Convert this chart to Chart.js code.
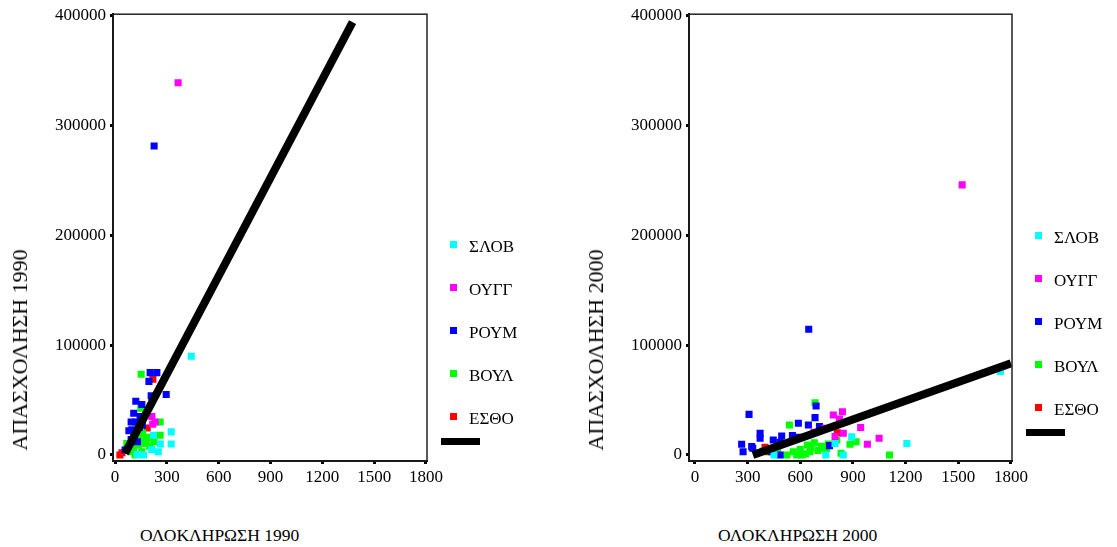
<!DOCTYPE html>
<html>
<head>
<meta charset="utf-8">
<script src="https://cdn.jsdelivr.net/npm/chart.js@4.4.1/dist/chart.umd.min.js"></script>
<style>
  body { margin: 0; background: #fff; font-family: "Liberation Serif", "Times New Roman", serif; color: #000; }
  #page { position: relative; width: 1117px; height: 547px; overflow: hidden; }
  canvas { position: absolute; top: 0; }
  .ytitle { position: absolute; font-size: 22px; white-space: nowrap; transform: translate(-50%, -50%) rotate(-90deg); }
  .xtitle { position: absolute; font-size: 17.5px; line-height: 20px; white-space: nowrap; }
  .legend { position: absolute; top: 0; width: 80px; height: 547px; }
  .row { position: absolute; left: 0; height: 20px; line-height: 20px; font-size: 17px; white-space: nowrap; }
  .row .mk { position: absolute; left: 0; top: 4px; width: 7px; height: 7px; }
  .row .tx { position: absolute; left: 19px; top: 0; }
  .fitmk { position: absolute; left: -9px; width: 39px; height: 7px; background: #000; }
</style>
</head>
<body>
<div id="page">
  <canvas id="chart1990" width="460" height="495" style="left:0px"></canvas>
  <canvas id="chart2000" width="460" height="495" style="left:576px"></canvas>
  <div class="ytitle" style="left:20px; top:350px">ΑΠΑΣΧΟΛΗΣΗ 1990</div>
  <div class="ytitle" style="left:596px; top:350px">ΑΠΑΣΧΟΛΗΣΗ 2000</div>
  <div class="xtitle" style="left:140px; top:525px">ΟΛΟΚΛΗΡΩΣΗ 1990</div>
  <div class="xtitle" style="left:718px; top:525px">ΟΛΟΚΛΗΡΩΣΗ 2000</div>
  <div class="legend" id="legend1990" style="left:450px"></div>
  <div class="legend" id="legend2000" style="left:1035px"></div>
</div>
<script>
// series names and colours
const countries = ['ΣΛΟΒ', 'ΟΥΓΓ', 'ΡΟΥΜ', 'ΒΟΥΛ', 'ΕΣΘΟ'];
const colors = ['#00ffff', '#ff00ff', '#0000ff', '#00ff00', '#ff0000'];

const xTicks = [0, 300, 600, 900, 1200, 1500, 1800];
const yTicks = [0, 100000, 200000, 300000, 400000];

// 1990: [ολοκλήρωση, απασχόληση]
const slov1990 = [[441, 90000], [325, 21000], [325, 10000], [262, 10000], [250, 3000], [212, 5000], [165, 0], [128, 500], [222, 18000]];
const oygg1990 = [[365, 339000], [213, 35000], [232, 30000], [218, 28000]];
const roum1990 = [[226, 281500], [203, 75000], [242, 75000], [196, 67000], [209, 54000], [296, 55000], [213, 53000], [120, 49000],
  [155, 46000], [108, 38000], [145, 35000], [93, 30000], [158, 27000], [97, 23000], [80, 22000], [93, 14000], [58, 4500],
  [110, 18000], [130, 12000], [120, 30000], [140, 25000]];
const voul1990 = [[151, 73500], [149, 42500], [261, 30000], [261, 18000], [193, 16000], [174, 10500], [135, 9000], [106, 6000],
  [68, 10500], [155, 3000], [116, 0], [180, 14000], [200, 8000], [160, 20000], [140, 15000], [90, 3000], [225, 12000]];
const esth1990 = [[219, 69000], [186, 24500], [28, 0], [40, 2000]];
const fit1990 = [[58, 1500], [1375, 394300]];

// 2000
const slov2000 = [[1740, 76000], [1207, 10500], [893, 16500], [845, 0], [798, 10500], [745, 0], [450, 0]];
const oygg2000 = [[1522, 246000], [1049, 15200], [982, 9700], [944, 25000], [840, 39400], [788, 36400], [823, 32800],
  [845, 19800], [798, 16700], [678, 20600], [741, 24300]];
const roum2000 = [[648, 114500], [690, 44600], [684, 34000], [709, 25800], [646, 27300], [589, 28900], [555, 17600], [308, 37000],
  [371, 19800], [371, 15200], [266, 9700], [274, 3000], [323, 7600], [329, 6100], [446, 13700], [494, 17300], [485, 0],
  [766, 8500], [589, 16000], [437, 3000], [485, 11600], [713, 24300]];
const voul2000 = [[684, 47600], [538, 27300], [918, 12100], [883, 9700], [1108, 0], [808, 13700], [832, 1500], [389, 3600],
  [560, 3000], [600, 5000], [630, 1000], [660, 7000], [700, 4000], [720, 8000], [750, 6000], [580, 0], [640, 9000],
  [680, 11000], [610, 0], [523, 0], [470, 4000], [760, 10000], [731, 6100], [655, 3000]];
const esth2000 = [[399, 7000], [811, 20300], [420, 3000]];
const fit2000 = [[330, 0], [1800, 83500]];

const toPts = arr => arr.map(p => ({ x: p[0], y: p[1] }));

const boxPlugin = {
  id: 'box',
  afterDraw(chart) {
    const a = chart.chartArea, ctx = chart.ctx;
    ctx.save();
    ctx.strokeStyle = '#222';
    ctx.lineWidth = 1.5;
    ctx.strokeRect(a.left, a.top, a.right - a.left, a.bottom - a.top);
    ctx.restore();
  }
};

function makeChart(id, groups, fit, xMin, rightPad) {
  const datasets = groups.map((g, i) => ({
    label: countries[i],
    data: toPts(g),
    backgroundColor: colors[i],
    borderWidth: 0,
    pointStyle: 'rect',
    pointRadius: 5,
    order: 1
  }));
  datasets.push({
    type: 'line',
    label: 'fit',
    data: toPts(fit),
    borderColor: '#000',
    borderWidth: 8,
    borderCapStyle: 'butt',
    pointRadius: 0,
    showLine: true,
    order: 0
  });
  const tickFont = { family: '"Liberation Serif", serif', size: 17 };
  new Chart(document.getElementById(id), {
    type: 'scatter',
    data: { datasets: datasets },
    options: {
      responsive: false,
      animation: false,
      layout: { padding: { top: 14, right: rightPad, left: 0, bottom: 0 } },
      plugins: { legend: { display: false }, tooltip: { enabled: false } },
      scales: {
        x: {
          type: 'linear', min: xMin, max: 1806,
          afterBuildTicks: s => { s.ticks = xTicks.map(v => ({ value: v })); },
          afterFit: s => { s.height = 34; },
          ticks: { color: '#000', font: tickFont, padding: 3, maxRotation: 0, callback: v => String(v) },
          grid: { drawOnChartArea: false, color: '#000', tickLength: 3, tickWidth: 3 },
          border: { color: '#000', width: 2 }
        },
        y: {
          type: 'linear', min: -5500, max: 401500,
          afterBuildTicks: s => { s.ticks = yTicks.map(v => ({ value: v })); },
          afterFit: s => { s.width = 113; },
          ticks: { color: '#000', font: tickFont, padding: 4, callback: v => String(v) },
          grid: { drawOnChartArea: false, color: '#000', tickLength: 3, tickWidth: 3 },
          border: { color: '#000', width: 2 }
        }
      }
    },
    plugins: [boxPlugin]
  });
}

function makeLegend(id, firstCenter) {
  const box = document.getElementById(id);
  countries.forEach((name, i) => {
    const row = document.createElement('div');
    row.className = 'row';
    row.style.top = (firstCenter + i * 43 - 10) + 'px';
    row.innerHTML = '<span class="mk" style="background:' + colors[i] + '"></span><span class="tx">' + name + '</span>';
    box.appendChild(row);
  });
  const fm = document.createElement('div');
  fm.className = 'fitmk';
  fm.style.top = (firstCenter + 4 * 43 + 22 - 3) + 'px';
  box.appendChild(fm);
}

makeChart('chart1990', [slov1990, oygg1990, roum1990, voul1990, esth1990], fit1990, -12, 33);
makeChart('chart2000', [slov2000, oygg2000, roum2000, voul2000, esth2000], fit2000, -34, 24);
makeLegend('legend1990', 247);
makeLegend('legend2000', 238);
</script>
</body>
</html>
